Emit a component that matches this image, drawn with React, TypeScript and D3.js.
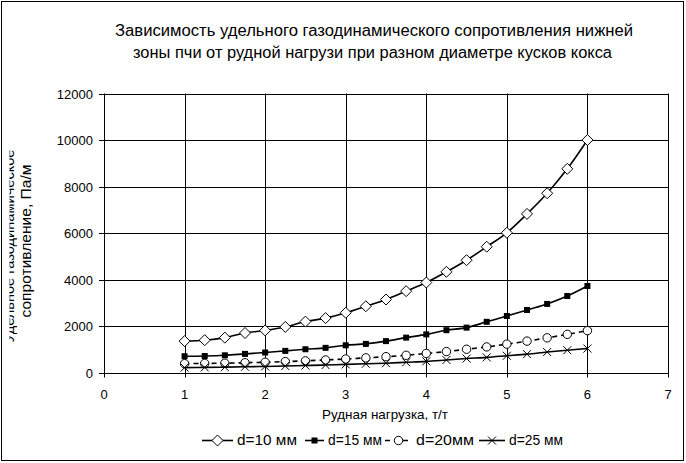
import React from "react";
import * as d3 from "d3";

const loads = [1, 1.25, 1.5, 1.75, 2, 2.25, 2.5, 2.75, 3, 3.25, 3.5, 3.75, 4, 4.25, 4.5, 4.75, 5, 5.25, 5.5, 5.75, 6];
const d10 = [1350, 1390, 1500, 1700, 1810, 1960, 2190, 2340, 2570, 2850, 3140, 3500, 3870, 4330, 4830, 5410, 6010, 6820, 7710, 8760, 10000];
const d15 = [700, 710, 740, 800, 860, 930, 1000, 1060, 1170, 1230, 1350, 1500, 1640, 1820, 1930, 2180, 2430, 2690, 2950, 3290, 3720];
const d20 = [380, 390, 400, 420, 440, 470, 500, 540, 580, 630, 680, 740, 820, 900, 1000, 1100, 1220, 1350, 1490, 1640, 1800];
const d25 = [210, 220, 230, 245, 260, 280, 300, 320, 350, 375, 400, 440, 480, 540, 600, 650, 720, 790, 880, 960, 1030];
const seriesNames = ["d=10 мм", "d=15 мм", "d=20мм", "d=25 мм"];
const xTicks = [0, 1, 2, 3, 4, 5, 6, 7];
const yTicks = [0, 2000, 4000, 6000, 8000, 10000, 12000];
const titleLines = [
  "Зависимость удельного газодинамического сопротивления нижней",
  "зоны пчи от рудной нагрузи при разном диаметре кусков кокса",
];
const xTitle = "Рудная нагрузка, т/т";
const yTitleLines = ["Удельное газодинамическое", "сопротивление, Па/м"];

const FONT = "'Liberation Sans', Arial, sans-serif";

type MarkerKind = "diamond" | "square" | "circle" | "cross";

function Marker({ kind, x, y }: { kind: MarkerKind; x: number; y: number }) {
  if (kind === "diamond") {
    const s = 5.5;
    return (
      <path
        d={`M${x},${y - s}L${x + s},${y}L${x},${y + s}L${x - s},${y}Z`}
        fill="#fff"
        stroke="#000"
        strokeWidth={1}
      />
    );
  }
  if (kind === "square") {
    return <rect x={x - 3} y={y - 3} width={6} height={6} fill="#000" />;
  }
  if (kind === "circle") {
    return <circle cx={x} cy={y} r={4.2} fill="#fff" stroke="#000" strokeWidth={1} />;
  }
  const s = 4;
  return (
    <g stroke="#000" strokeWidth={1}>
      <line x1={x - s} y1={y - s} x2={x + s} y2={y + s} />
      <line x1={x - s} y1={y + s} x2={x + s} y2={y - s} />
    </g>
  );
}

export default function App() {
  const W = 686;
  const H = 463;
  const x = d3.scaleLinear().domain([0, 7]).range([104, 668]);
  const y = d3.scaleLinear().domain([0, 12000]).range([372.5, 93.5]);

  const series = [
    { name: seriesNames[0], values: d10, kind: "diamond" as MarkerKind, dash: undefined as string | undefined, width: 1.6 },
    { name: seriesNames[1], values: d15, kind: "square" as MarkerKind, dash: undefined, width: 1.6 },
    { name: seriesNames[2], values: d20, kind: "circle" as MarkerKind, dash: "5,4", width: 1.6 },
    { name: seriesNames[3], values: d25, kind: "cross" as MarkerKind, dash: undefined, width: 1.6 },
  ];

  const line = d3
    .line<[number, number]>()
    .x((d) => x(d[0]))
    .y((d) => y(d[1]))
    .curve(d3.curveCatmullRom.alpha(0.5));

  const px = (v: number) => Math.round(v) + 0.5;

  const legendItems = [
    { lx: 202, tx: 237, tl: 60 },
    { lx: 305, tx: 328, tl: 54 },
    { lx: 385, tx: 416, tl: 58 },
    { lx: 479, tx: 509, tl: 54 },
  ];

  return (
    <svg
      width={W}
      height={H}
      style={{ position: "absolute", left: 0, top: 0, background: "#fff" }}
      fontFamily={FONT}
    >
      <defs>
        <clipPath id="ylabclip">
          <rect x={9.5} y={0} width={100} height={H} />
        </clipPath>
      </defs>
      <rect x={0} y={0} width={W} height={H} fill="#fff" />
      <rect x={1.5} y={1.5} width={682} height={459} fill="none" stroke="#000" strokeWidth={1} />

      {/* Title */}
      <text x={374} y={35.5} fontSize={16} textAnchor="middle" textLength={518} lengthAdjust="spacingAndGlyphs">
        {titleLines[0]}
      </text>
      <text x={372.5} y={57.5} fontSize={16} textAnchor="middle" textLength={479} lengthAdjust="spacingAndGlyphs">
        {titleLines[1]}
      </text>

      {/* Gridlines */}
      {yTicks.map((t) => (
        <line key={"gy" + t} x1={x(0)} x2={x(7)} y1={px(y(t))} y2={px(y(t))} stroke="#000" strokeWidth={1} />
      ))}
      {xTicks.map((t) => (
        <line key={"gx" + t} x1={px(x(t))} x2={px(x(t))} y1={y(12000)} y2={y(0) + 5} stroke="#000" strokeWidth={1} />
      ))}
      {/* Y ticks */}
      {yTicks.map((t) => (
        <line key={"ty" + t} x1={x(0) - 5} x2={x(0)} y1={px(y(t))} y2={px(y(t))} stroke="#000" strokeWidth={1} />
      ))}
      {yTicks.map((t) => (
        <text key={"ly" + t} x={93} y={y(t) + 5} fontSize={13} textAnchor="end">
          {t}
        </text>
      ))}
      {xTicks.map((t) => (
        <text key={"lx" + t} x={x(t)} y={399} fontSize={13} textAnchor="middle">
          {t}
        </text>
      ))}

      {/* Axis titles */}
      <text x={385} y={419} fontSize={13} textAnchor="middle" textLength={126} lengthAdjust="spacingAndGlyphs">
        {xTitle}
      </text>
      <g clipPath="url(#ylabclip)">
        <text
          transform="translate(14,246) rotate(-90)"
          fontSize={14}
          textAnchor="middle"
          textLength={193}
          lengthAdjust="spacingAndGlyphs"
        >
          {yTitleLines[0]}
        </text>
      </g>
      <text
        transform="translate(31,241) rotate(-90)"
        fontSize={14}
        textAnchor="middle"
        textLength={153}
        lengthAdjust="spacingAndGlyphs"
      >
        {yTitleLines[1]}
      </text>

      {/* Series */}
      {series.map((s) => {
        const pts = loads.map((l, i) => [l, s.values[i]] as [number, number]);
        return (
          <g key={s.name}>
            <path d={line(pts) || ""} fill="none" stroke="#000" strokeWidth={s.width} strokeDasharray={s.dash} />
            {pts.map((p, i) => (
              <Marker key={i} kind={s.kind} x={x(p[0])} y={y(p[1])} />
            ))}
          </g>
        );
      })}

      {/* Legend */}
      {series.map((s, i) => {
        const it = legendItems[i];
        const ly = 440.5;
        const lineEnd = it.tx - 4;
        return (
          <g key={"lg" + s.name}>
            <line
              x1={it.lx}
              x2={lineEnd}
              y1={ly}
              y2={ly}
              stroke="#000"
              strokeWidth={s.width}
              strokeDasharray={s.dash}
            />
            <Marker kind={s.kind} x={(it.lx + lineEnd) / 2} y={ly} />
            <text x={it.tx} y={445} fontSize={14} textLength={it.tl} lengthAdjust="spacingAndGlyphs">
              {s.name}
            </text>
          </g>
        );
      })}
    </svg>
  );
}
